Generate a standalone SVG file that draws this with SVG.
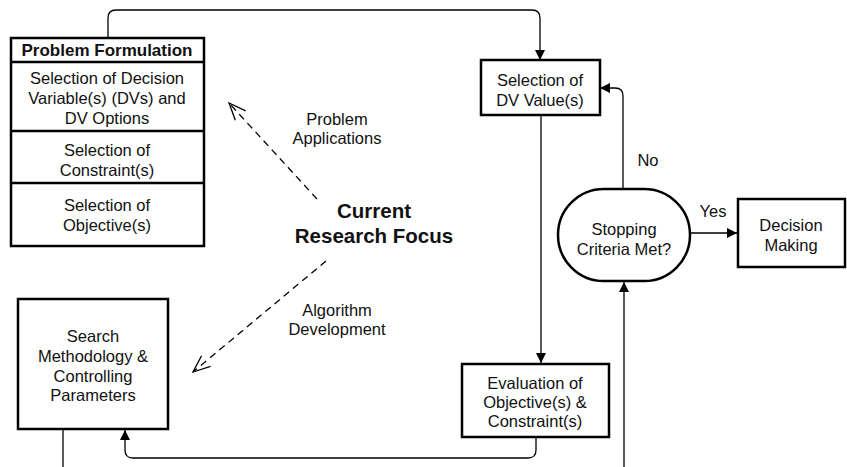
<svg xmlns="http://www.w3.org/2000/svg" width="847" height="467" viewBox="0 0 847 467">
<defs>
<marker id="arr" viewBox="0 0 10 10" refX="10" refY="5" markerWidth="10" markerHeight="10" markerUnits="userSpaceOnUse" orient="auto"><path d="M0,0 L10,5 L0,10 z" fill="#000"/></marker>
<marker id="open" viewBox="0 0 20 20" refX="19" refY="10" markerWidth="20" markerHeight="20" markerUnits="userSpaceOnUse" orient="auto"><path d="M2,3 L19,10 L2,17" fill="none" stroke="#000" stroke-width="1.3"/></marker>
</defs>
<style>
.box{fill:#fff;stroke:#000;stroke-width:2.5}
.t{font-family:"Liberation Sans",Arial,sans-serif;font-size:16.5px;fill:#111;text-anchor:middle}
.b{font-weight:bold}
.hdr{font-size:17px}
.big{font-size:20.5px}
.c{fill:none;stroke:#000;stroke-width:1.3}
.d{fill:none;stroke:#000;stroke-width:1.3;stroke-dasharray:7,5}
</style>
<rect width="847" height="467" fill="#fff"/>
<g id="connectors">
<path class="c" d="M108,38 V18 Q108,10 116,10 H532 Q540,10 540,18 V60" marker-end="url(#arr)"/>
<path class="c" d="M623,189 V96 Q623,88 615,88 H600" marker-end="url(#arr)"/>
<path class="c" d="M690,233 H737" marker-end="url(#arr)"/>
<path class="c" d="M541,115 V363" marker-end="url(#arr)"/>
<path class="c" d="M536,437 V450 Q536,458 528,458 H133 Q125,458 125,450 V430" marker-end="url(#arr)"/>
<path class="c" d="M63,429 V468 Q63,476 71,476 H616 Q624,476 624,468 V282" marker-end="url(#arr)"/>
<path class="d" d="M317,199 L229,103" marker-end="url(#open)"/>
<path class="d" d="M326,261 L193,372" marker-end="url(#open)"/>
</g>
<g id="problem-formulation">
<rect class="box" x="11" y="38" width="193" height="208"/>
<line class="box" x1="11" y1="62" x2="204" y2="62"/>
<line class="box" x1="11" y1="131" x2="204" y2="131"/>
<line class="box" x1="11" y1="183" x2="204" y2="183"/>
<text class="t b hdr" x="107" y="56">Problem Formulation</text>
<text class="t" x="107" y="84">Selection of Decision</text>
<text class="t" x="107" y="104">Variable(s) (DVs) and</text>
<text class="t" x="107" y="124">DV Options</text>
<text class="t" x="107" y="156">Selection of</text>
<text class="t" x="107" y="176">Constraint(s)</text>
<text class="t" x="107" y="211">Selection of</text>
<text class="t" x="107" y="231">Objective(s)</text>
</g>
<g id="search-methodology">
<rect class="box" x="18" y="299" width="150" height="130"/>
<text class="t" x="93" y="342">Search</text>
<text class="t" x="93" y="362">Methodology &amp;</text>
<text class="t" x="93" y="382">Controlling</text>
<text class="t" x="93" y="401">Parameters</text>
</g>
<g id="selection-dv">
<rect class="box" x="481" y="60" width="119" height="55"/>
<text class="t" x="540" y="86">Selection of</text>
<text class="t" x="540" y="106">DV Value(s)</text>
</g>
<g id="stopping">
<rect class="box" x="558" y="189" width="132" height="92" rx="46" ry="46"/>
<text class="t" x="624" y="235">Stopping</text>
<text class="t" x="624" y="255">Criteria Met?</text>
</g>
<g id="decision-making">
<rect class="box" x="738" y="199" width="107" height="68"/>
<text class="t" x="791" y="231">Decision</text>
<text class="t" x="791" y="251">Making</text>
</g>
<g id="evaluation">
<rect class="box" x="462" y="364" width="147" height="73"/>
<text class="t" x="535" y="389">Evaluation of</text>
<text class="t" x="535" y="408">Objective(s) &amp;</text>
<text class="t" x="535" y="427">Constraint(s)</text>
</g>
<g id="labels">
<text class="t b big" x="374" y="218">Current</text>
<text class="t b big" x="374" y="243">Research Focus</text>
<text class="t" x="337" y="125">Problem</text>
<text class="t" x="337" y="144">Applications</text>
<text class="t" x="337" y="316">Algorithm</text>
<text class="t" x="337" y="335">Development</text>
<text class="t" x="648" y="166">No</text>
<text class="t" x="713" y="217">Yes</text>
</g>
</svg>
